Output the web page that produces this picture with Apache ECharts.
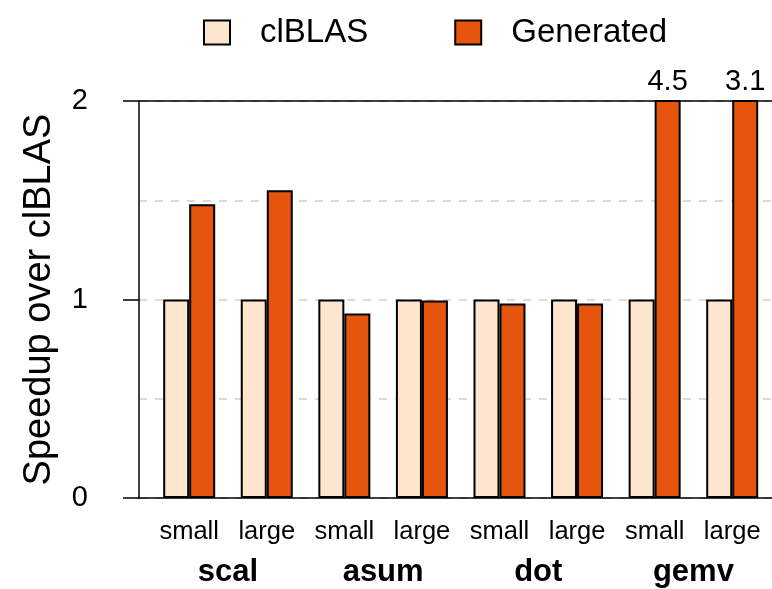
<!DOCTYPE html>
<html>
<head>
<meta charset="utf-8">
<script src="https://cdn.jsdelivr.net/npm/echarts@6/dist/echarts.min.js"></script>
<style>
html,body{margin:0;padding:0;background:#fff;}
#chart{width:772px;height:589px;}
</style>
</head>
<body>
<div id="chart"></div>
<script>
const sizes = ['small','large','small','large','small','large','small','large'];
const groups = ['scal','asum','dot','gemv'];
const clBLAS = [1, 1, 1, 1, 1, 1, 1, 1];
const generated = [1.48, 1.55, 0.93, 0.995, 0.98, 0.98, 4.5, 3.1];
const yTicks = [0, 1, 2];
const yMax = 2;

const FONT = '"Liberation Sans", Arial, Helvetica, sans-serif';
const chart = echarts.init(document.getElementById('chart'));

function toData(arr) {
  return arr.map(v => ({
    value: v,
    label: { show: v > yMax }
  }));
}

const option = {
  animation: false,
  textStyle: { fontFamily: FONT, color: '#000' },
  legend: {
    left: 198, top: 11,
    icon: 'rect',
    itemWidth: 26, itemHeight: 24, itemGap: 86,
    textStyle: { fontSize: 33, color: '#000', padding: [0, 0, 0, 25] },
    data: ['clBLAS', 'Generated']
  },
  grid: [
    { left: 150.4, top: 101, width: 620.6, height: 397, containLabel: false },
    { left: 139, top: 101, right: 0, height: 397, containLabel: false }
  ],
  xAxis: [
    {
      type: 'category', gridIndex: 0, data: sizes,
      axisLine: { show: false }, axisTick: { show: false },
      axisLabel: { fontSize: 25.5, color: '#000', margin: 21, interval: 0, hideOverlap: false }
    },
    {
      type: 'category', gridIndex: 0, data: groups, position: 'bottom',
      axisLine: { show: false }, axisTick: { show: false },
      axisLabel: { fontSize: 31, fontWeight: 'bold', color: '#000', margin: 59, interval: 0 }
    },
    {
      type: 'value', gridIndex: 1, position: 'bottom', min: 0, max: 1,
      axisLine: { show: true, onZero: false, lineStyle: { color: '#000', width: 1.5 } },
      axisTick: { show: false }, axisLabel: { show: false }, splitLine: { show: false }
    },
    {
      type: 'value', gridIndex: 1, position: 'top', min: 0, max: 1,
      axisLine: { show: true, onZero: false, lineStyle: { color: '#000', width: 1.5 } },
      axisTick: { show: false }, axisLabel: { show: false }, splitLine: { show: false }
    }
  ],
  yAxis: [
    {
      type: 'value', gridIndex: 0, min: 0, max: yMax,
      axisLine: { show: false }, axisTick: { show: false },
      axisLabel: { show: false }, splitLine: { show: false }
    },
    {
      type: 'value', gridIndex: 1, min: 0, max: yMax, interval: 1,
      name: 'Speedup over clBLAS', nameLocation: 'middle', nameGap: 80,
      nameTextStyle: { fontSize: 38, color: '#000' },
      axisLine: { show: true, lineStyle: { color: '#000', width: 1.5 } },
      axisTick: { show: true, length: 16, lineStyle: { color: '#000', width: 1.5 } },
      axisLabel: { fontSize: 29, color: '#000', margin: 51,
        formatter: v => yTicks.includes(v) ? String(v) : '' },
      splitLine: { show: false }
    },
    {
      type: 'value', gridIndex: 1, min: 0, max: yMax, interval: 0.5,
      axisLine: { show: false }, axisTick: { show: false }, axisLabel: { show: false },
      splitLine: { show: true, lineStyle: { color: '#cfcfcf', width: 1.5, type: [8, 8] } }
    }
  ],
  series: [
    {
      name: 'clBLAS', type: 'bar', xAxisIndex: 0, yAxisIndex: 0,
      data: toData(clBLAS), barWidth: 26, barGap: '0%', clip: true,
      itemStyle: { color: '#fee6ce', borderColor: '#000', borderWidth: 2 },
      label: { position: 'top', fontSize: 29, color: '#000', distance: 4 },
      z: 3
    },
    {
      name: 'Generated', type: 'bar', xAxisIndex: 0, yAxisIndex: 0,
      data: toData(generated), barWidth: 26, barGap: '0%', clip: true,
      itemStyle: { color: '#e6550d', borderColor: '#000', borderWidth: 2 },
      label: { position: 'top', fontSize: 29, color: '#000', distance: 4 },
      z: 3
    }
  ]
};
chart.setOption(option);
</script>
</body>
</html>
